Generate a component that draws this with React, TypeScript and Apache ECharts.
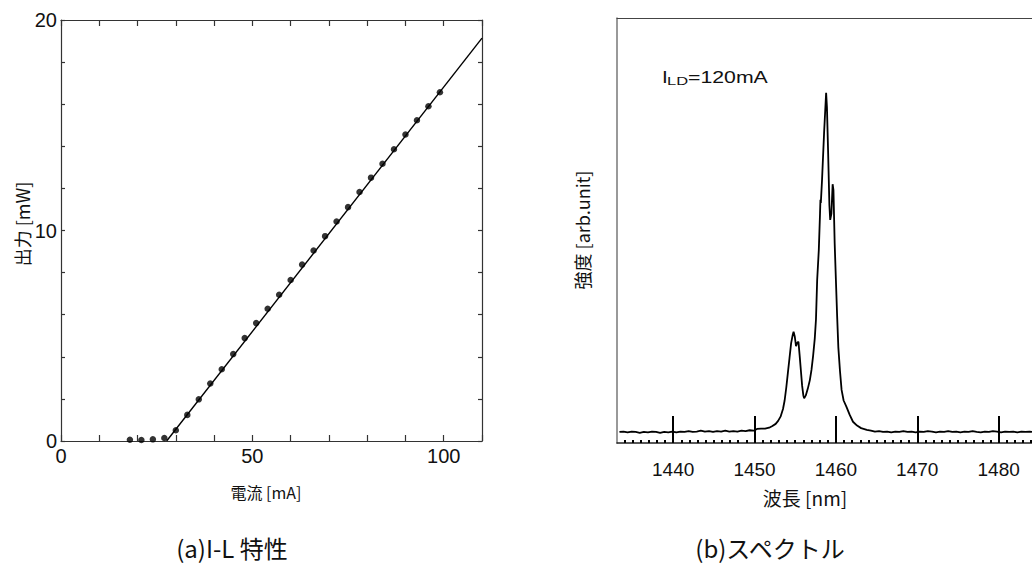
import { useEffect, useRef } from "react";
import * as echarts from "echarts";

// (a) I-L characteristic: measured points and linear fit
const currentMA = [18, 21, 24, 27, 30, 33, 36, 39, 42, 45, 48, 51, 54, 57, 60, 63, 66, 69, 72, 75, 78, 81, 84, 87, 90, 93, 96, 99];
const powerMW = [0.06, 0.05, 0.08, 0.14, 0.51, 1.24, 1.98, 2.73, 3.41, 4.13, 4.89, 5.6, 6.28, 6.95, 7.65, 8.38, 9.05, 9.73, 10.43, 11.11, 11.83, 12.51, 13.17, 13.86, 14.56, 15.24, 15.9, 16.57];
const fitCurrentMA = [27.6, 110];
const fitPowerMW = [0, 19.14];
const currentTickLabels = [0, 50, 100];
const powerTickLabels = [0, 10, 20];

// (b) emission spectrum at I_LD = 120 mA
const wavelengthNm = [
  1433.4, 1433.9, 1434.4, 1434.9, 1435.4, 1435.9, 1436.4, 1436.9, 1437.4, 1437.9,
  1438.4, 1438.9, 1439.4, 1439.9, 1440.4, 1440.9, 1441.4, 1441.9, 1442.4, 1442.9,
  1443.4, 1443.9, 1444.4, 1444.9, 1445.4, 1445.9, 1446.4, 1446.9, 1447.4, 1447.9,
  1448.4, 1448.9, 1449.4, 1449.9, 1450.3, 1450.8, 1451.3, 1451.8, 1452.2, 1452.6,
  1452.9, 1453.2, 1453.5, 1453.7, 1453.9, 1454.1, 1454.3, 1454.5, 1454.7, 1454.8,
  1454.95, 1455.1, 1455.25, 1455.4, 1455.55, 1455.7, 1455.85, 1456.0, 1456.1, 1456.3,
  1456.55, 1456.8, 1457.0, 1457.2, 1457.4, 1457.55, 1457.7, 1457.9, 1458.05, 1458.1,
  1458.15, 1458.3, 1458.55, 1458.8, 1458.9, 1459.05, 1459.2, 1459.3, 1459.45, 1459.6,
  1459.7, 1459.85, 1460.0, 1460.15, 1460.3, 1460.5, 1460.7, 1460.95, 1461.3, 1461.7,
  1462.1, 1462.6, 1463.1, 1463.8, 1464.3, 1464.8, 1465.3, 1465.8, 1466.3, 1466.8,
  1467.3, 1467.8, 1468.3, 1468.8, 1469.3, 1469.8, 1470.3, 1470.8, 1471.3, 1471.8,
  1472.3, 1472.8, 1473.3, 1473.8, 1474.3, 1474.8, 1475.3, 1475.8, 1476.3, 1476.8,
  1477.3, 1477.8, 1478.3, 1478.8, 1479.3, 1479.8, 1480.3, 1480.8, 1481.3, 1481.8,
  1482.3, 1482.8, 1483.3, 1483.8, 1484.1,
];
const intensityAU = [
  0.026, 0.027, 0.025, 0.027, 0.026, 0.024, 0.026, 0.025, 0.027, 0.026,
  0.024, 0.026, 0.025, 0.027, 0.025, 0.027, 0.026, 0.028, 0.026, 0.027,
  0.029, 0.027, 0.028, 0.026, 0.028, 0.027, 0.029, 0.027, 0.028, 0.027,
  0.029, 0.028, 0.03, 0.029, 0.033, 0.034, 0.034, 0.036, 0.04, 0.045,
  0.052, 0.062, 0.08, 0.1, 0.13, 0.165, 0.2, 0.235, 0.255, 0.262,
  0.25, 0.228, 0.236, 0.238, 0.205, 0.17, 0.135, 0.112, 0.105, 0.112,
  0.128, 0.148, 0.172, 0.205, 0.245, 0.29, 0.384, 0.454, 0.54, 0.572,
  0.565, 0.62, 0.73, 0.824, 0.79, 0.68, 0.56, 0.525, 0.54, 0.609,
  0.595, 0.47, 0.384, 0.3, 0.225, 0.17, 0.125, 0.1, 0.085, 0.066,
  0.05, 0.041, 0.035, 0.031, 0.029, 0.027, 0.028, 0.026, 0.027, 0.025,
  0.027, 0.026, 0.028, 0.026, 0.027, 0.025, 0.027, 0.026, 0.028, 0.027,
  0.025, 0.027, 0.026, 0.028, 0.026, 0.027, 0.025, 0.027, 0.026, 0.028,
  0.026, 0.025, 0.027, 0.026, 0.028, 0.027, 0.025, 0.027, 0.026, 0.027,
  0.025, 0.027, 0.026, 0.027, 0.026,
];
const wavelengthTickLabels = [1440, 1450, 1460, 1470, 1480];

const AXIS = "#333";
const LATIN = "'Liberation Sans', Arial, sans-serif";
const CJK = "'Noto Sans CJK JP', 'Noto Sans', sans-serif";

export default function App() {
  const ref = useRef<HTMLDivElement>(null);

  useEffect(() => {
    if (!ref.current) return;
    const chart = echarts.init(ref.current, undefined, { renderer: "svg" });

    const minorWavelengthTicks: number[] = [];
    for (let w = 1434; w <= 1484; w++) {
      if (w % 10 !== 0) minorWavelengthTicks.push(w);
    }

    const ilPoints = currentMA.map((c, i) => [c, powerMW[i]]);
    const fitLine = fitCurrentMA.map((c, i) => [c, fitPowerMW[i]]);
    const spectrum = wavelengthNm.map((w, i) => [w, intensityAU[i]]);

    const hidden = { show: false };
    const plain = (v: number) => String(v);
    const text = (
      t: string,
      x: number,
      y: number,
      size: number,
      family: string,
      extra: Record<string, unknown> = {},
      align = "center"
    ) => ({
      type: "text",
      x,
      y,
      ...extra,
      style: {
        text: t,
        font: `${size}px ${family}`,
        fill: "#111",
        textAlign: align,
        textVerticalAlign: "middle",
        align,
        verticalAlign: "middle",
      },
    });

    chart.setOption({
      animation: false,
      backgroundColor: "#fff",
      grid: [
        { left: 61, top: 20, width: 421, height: 421 },
        { left: 617, top: 18, width: 415, height: 425 },
      ],
      xAxis: [
        {
          gridIndex: 0,
          type: "value",
          min: 0,
          max: 110,
          interval: 10,
          position: "bottom",
          axisLine: { show: true, onZero: false, lineStyle: { color: AXIS, width: 1.2 } },
          axisTick: { inside: true, length: 6, lineStyle: { color: AXIS, width: 1.2 } },
          axisLabel: { customValues: currentTickLabels, formatter: plain, fontSize: 20, fontFamily: LATIN, color: "#111", margin: 5 },
          splitLine: hidden,
        },
        {
          gridIndex: 0,
          type: "value",
          min: 0,
          max: 110,
          interval: 10,
          position: "top",
          axisLine: { show: true, onZero: false, lineStyle: { color: AXIS, width: 1.2 } },
          axisTick: { inside: true, length: 6, lineStyle: { color: AXIS, width: 1.2 } },
          axisLabel: hidden,
          splitLine: hidden,
        },
        {
          gridIndex: 1,
          type: "value",
          min: 1433.1,
          max: 1484.1,
          position: "bottom",
          axisLine: { show: true, onZero: false, lineStyle: { color: "#222", width: 1.5 } },
          axisTick: { customValues: wavelengthTickLabels, inside: true, length: 27, lineStyle: { color: "#000", width: 2 } },
          axisLabel: { customValues: wavelengthTickLabels, formatter: plain, fontSize: 19, fontFamily: LATIN, color: "#111", margin: 17 },
          splitLine: hidden,
        },
        {
          gridIndex: 1,
          type: "value",
          min: 1433.1,
          max: 1484.1,
          position: "bottom",
          axisLine: { show: false, onZero: false },
          axisTick: { customValues: minorWavelengthTicks, inside: true, length: 3, lineStyle: { color: "#000", width: 2 } },
          axisLabel: hidden,
          splitLine: hidden,
        },
        {
          gridIndex: 1,
          type: "value",
          min: 1433.1,
          max: 1484.1,
          position: "top",
          axisLine: { show: true, onZero: false, lineStyle: { color: "#444", width: 1.2 } },
          axisTick: hidden,
          axisLabel: hidden,
          splitLine: hidden,
        },
      ],
      yAxis: [
        {
          gridIndex: 0,
          type: "value",
          min: 0,
          max: 20,
          interval: 2,
          position: "left",
          axisLine: { show: true, onZero: false, lineStyle: { color: AXIS, width: 1.2 } },
          axisTick: { show: true, inside: true, length: 4, lineStyle: { color: AXIS, width: 1.2 } },
          axisLabel: { customValues: powerTickLabels, formatter: plain, fontSize: 20, fontFamily: LATIN, color: "#111", margin: 4 },
          splitLine: hidden,
        },
        {
          gridIndex: 0,
          type: "value",
          min: 0,
          max: 20,
          interval: 2,
          position: "right",
          axisLine: { show: true, onZero: false, lineStyle: { color: AXIS, width: 1.2 } },
          axisTick: { show: true, inside: true, length: 4, lineStyle: { color: AXIS, width: 1.2 } },
          axisLabel: hidden,
          splitLine: hidden,
        },
        {
          gridIndex: 1,
          type: "value",
          min: 0,
          max: 1,
          position: "left",
          axisLine: { show: true, onZero: false, lineStyle: { color: "#777", width: 1.5 } },
          axisTick: hidden,
          axisLabel: hidden,
          splitLine: hidden,
        },
      ],
      series: [
        {
          type: "line",
          xAxisIndex: 0,
          yAxisIndex: 0,
          data: fitLine,
          showSymbol: false,
          lineStyle: { color: "#000", width: 1.4 },
        },
        {
          type: "scatter",
          xAxisIndex: 0,
          yAxisIndex: 0,
          data: ilPoints,
          symbolSize: 6.5,
          itemStyle: { color: "#000" },
        },
        {
          type: "line",
          xAxisIndex: 2,
          yAxisIndex: 2,
          data: spectrum,
          showSymbol: false,
          lineStyle: { color: "#000", width: 1.8 },
        },
      ],
      graphic: [
        text("電流 [mA]", 266, 492, 16, CJK),
        text("出力 [mW]", 22, 224, 18, CJK, { rotation: Math.PI / 2 }),
        text("波長 [nm]", 805, 497, 19, CJK),
        text("強度 [arb.unit]", 582, 230, 18, CJK, { rotation: Math.PI / 2 }),
        text("(a)I-L 特性", 232, 547, 24, CJK),
        text("(b)スペクトル", 770, 547, 24, CJK),
        text("I", 662, 77, 16, LATIN, { scaleX: 1.3 }, "left"),
        text("LD", 667, 81, 11, LATIN, { scaleX: 1.5 }, "left"),
        text("=120mA", 688, 77, 16, LATIN, { scaleX: 1.33 }, "left"),
      ],
    });

    return () => chart.dispose();
  }, []);

  return (
    <div
      ref={ref}
      style={{ position: "fixed", left: 0, top: 0, width: 1032, height: 569, background: "#fff" }}
    />
  );
}
